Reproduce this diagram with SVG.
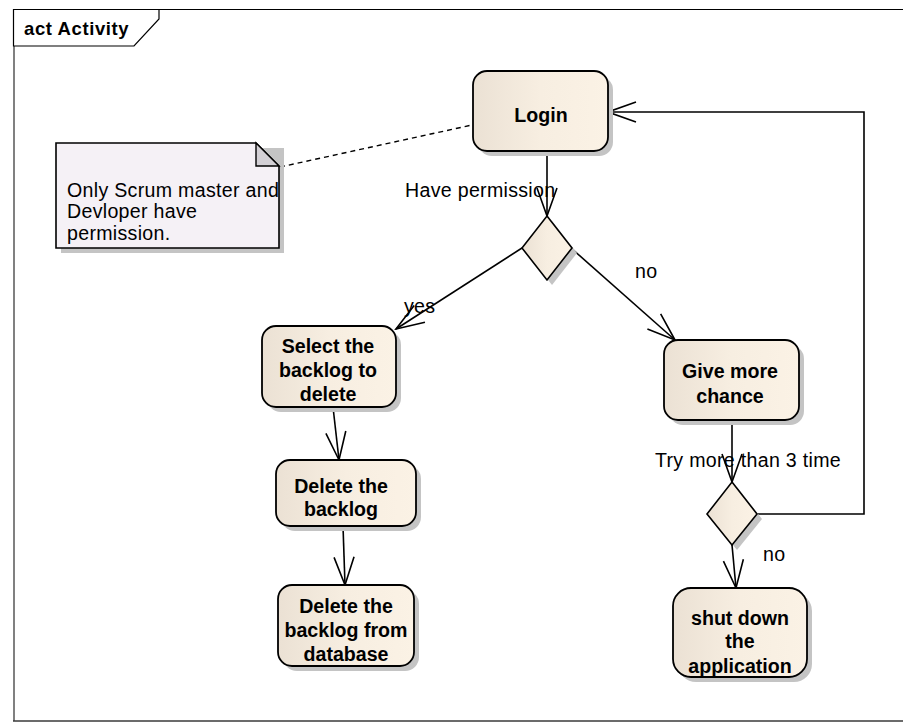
<svg xmlns="http://www.w3.org/2000/svg" width="903" height="727" viewBox="0 0 903 727">
  <style>
    .frame-top { stroke: #000; stroke-width: 1.2; fill: none; }
    .frame-left { stroke: #808080; stroke-width: 2; fill: none; }
    .frame-bottom { stroke: #3a3a3a; stroke-width: 1.5; fill: none; }
    .tab { fill: #fff; stroke: #000; stroke-width: 1.2; }
    .title { font-family: "Liberation Sans", Arial, sans-serif; font-weight: bold; font-size: 18.5px; letter-spacing: 0.6px; fill: #000; }
    .shadow { fill: #c4c4c4; }
    .action { fill: url(#actionFill); stroke: #000; stroke-width: 1.8; }
    .decision { fill: url(#actionFill); stroke: #000; stroke-width: 1.6; }
    .note { fill: #f5f1f6; stroke: #000; stroke-width: 1.6; }
    .fold { fill: #d3d0d5; stroke: #000; stroke-width: 1.4; }
    .node-text { font-family: "Liberation Sans", Arial, sans-serif; font-weight: bold; font-size: 19.6px; fill: #000; text-anchor: middle; }
    .label { font-family: "Liberation Sans", Arial, sans-serif; font-size: 19.6px; letter-spacing: 0.3px; fill: #000; }
    .flow { fill: none; stroke: #000; stroke-width: 1.6; marker-end: url(#openArrow); }
    .link { fill: none; stroke: #000; stroke-width: 1.4; stroke-dasharray: 5 4; }
  </style>
  <defs>
    <linearGradient id="actionFill" x1="0" y1="0" x2="1" y2="0">
      <stop offset="0" stop-color="#ebe1d4"/>
      <stop offset="0.5" stop-color="#f7eee1"/>
      <stop offset="1" stop-color="#fbf2e5"/>
    </linearGradient>
    <marker id="openArrow" markerUnits="userSpaceOnUse" viewBox="-30 -12 32 24" refX="0" refY="0" markerWidth="32" markerHeight="24" orient="auto">
      <path d="M-28,-10 L0,0 L-28,10" fill="none" stroke="#000" stroke-width="1.6"/>
    </marker>
  </defs>

  <!-- diagram frame -->
  <g id="frame">
    <line class="frame-top" x1="13.5" y1="9.5" x2="903" y2="9.5"/>
    <line class="frame-left" x1="14" y1="9.5" x2="14" y2="721"/>
    <line class="frame-bottom" x1="13" y1="721" x2="903" y2="721"/>
    <path class="tab" d="M13.5,9.5 H159 V19 L134,46 H13.5 Z"/>
    <text class="title" x="24" y="35">act Activity</text>
  </g>

  <!-- connectors -->
  <g id="connectors">
    <line class="link" x1="280" y1="167" x2="472" y2="125"/>
    <line class="flow" x1="547" y1="151" x2="547" y2="216"/>
    <line class="flow" x1="522" y1="248" x2="396" y2="329"/>
    <line class="flow" x1="571" y1="248" x2="675" y2="340"/>
    <line class="flow" x1="333" y1="407" x2="339" y2="460"/>
    <line class="flow" x1="343" y1="526" x2="345" y2="585"/>
    <line class="flow" x1="732" y1="420" x2="732" y2="482"/>
    <line class="flow" x1="732" y1="545" x2="736" y2="588"/>
    <polyline class="flow" points="757,514 864,514 864,112 608,112"/>
    <text class="label" x="405" y="197">Have permission</text>
    <text class="label" x="404" y="313">yes</text>
    <text class="label" x="635" y="278">no</text>
    <text class="label" x="655" y="467">Try more than 3 time</text>
    <text class="label" x="763" y="561">no</text>
  </g>

  <!-- note -->
  <g id="note">
    <path class="shadow" d="M61,148 H284 V253 H61 Z"/>
    <path class="note" d="M56,143 H256 L279,166 V248 H56 Z"/>
    <path class="fold" d="M256,143 V166 H279 Z"/>
    <text class="label" x="67" y="196.5">Only Scrum master and</text>
    <text class="label" x="67" y="218">Devloper have</text>
    <text class="label" x="67" y="239.5">permission.</text>
  </g>

  <!-- actions -->
  <g id="login">
    <rect class="shadow" x="478" y="76" width="135" height="80" rx="14"/>
    <rect class="action" x="473" y="71" width="135" height="80" rx="14"/>
    <text class="node-text" x="541" y="122">Login</text>
  </g>

  <g id="decision-permission">
    <path class="shadow" d="M552,221 L577,253 L552,285 L527,253 Z"/>
    <path class="decision" d="M547,216 L572,248 L547,280 L522,248 Z"/>
  </g>

  <g id="select-backlog">
    <rect class="shadow" x="267" y="331" width="134" height="81" rx="14"/>
    <rect class="action" x="262" y="326" width="134" height="81" rx="14"/>
    <text class="node-text" x="328" y="353">Select the</text>
    <text class="node-text" x="328" y="377">backlog to</text>
    <text class="node-text" x="328" y="401">delete</text>
  </g>

  <g id="delete-backlog">
    <rect class="shadow" x="281" y="465" width="140" height="66" rx="14"/>
    <rect class="action" x="276" y="460" width="140" height="66" rx="14"/>
    <text class="node-text" x="341" y="493">Delete the</text>
    <text class="node-text" x="341" y="516">backlog</text>
  </g>

  <g id="delete-from-database">
    <rect class="shadow" x="283" y="590" width="136" height="81" rx="14"/>
    <rect class="action" x="278" y="585" width="136" height="81" rx="14"/>
    <text class="node-text" x="346" y="613">Delete the</text>
    <text class="node-text" x="346" y="637">backlog from</text>
    <text class="node-text" x="346" y="661">database</text>
  </g>

  <g id="give-more-chance">
    <rect class="shadow" x="669" y="345" width="135" height="80" rx="14"/>
    <rect class="action" x="664" y="340" width="135" height="80" rx="14"/>
    <text class="node-text" x="730" y="378">Give more</text>
    <text class="node-text" x="730" y="403">chance</text>
  </g>

  <g id="decision-retry">
    <path class="shadow" d="M737,487 L762,519 L737,550 L712,519 Z"/>
    <path class="decision" d="M732,482 L757,514 L732,545 L707,514 Z"/>
  </g>

  <g id="shut-down">
    <rect class="shadow" x="678" y="593" width="134" height="89" rx="18"/>
    <rect class="action" x="673" y="588" width="134" height="89" rx="18"/>
    <text class="node-text" x="740" y="625">shut down</text>
    <text class="node-text" x="740" y="648">the</text>
    <text class="node-text" x="740" y="673">application</text>
  </g>
</svg>
